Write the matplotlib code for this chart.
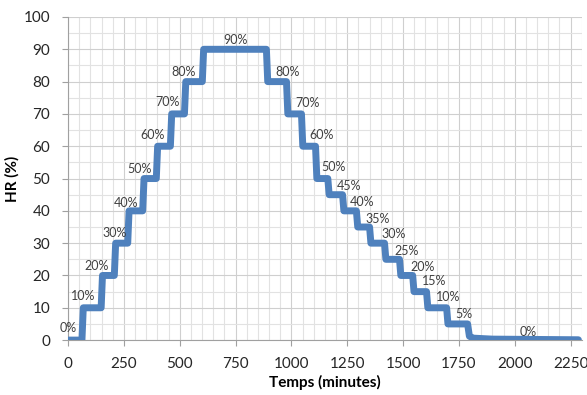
import matplotlib.pyplot as plt
from matplotlib.ticker import MultipleLocator

# corner points of the RH profile (minutes, %)
time_min = [0, 62, 68, 148, 154, 207, 213, 267, 273, 334, 340, 395, 401, 458, 464, 521, 527,
            601, 607, 888, 894, 978, 984, 1045, 1051, 1108, 1114, 1163, 1169, 1229, 1235,
            1291, 1297, 1350, 1356, 1417, 1423, 1484, 1490, 1543, 1549, 1605, 1611, 1695,
            1701, 1789, 1797, 1815, 1900, 2285]
hr_pct = [0, 0, 10, 10, 20, 20, 30, 30, 40, 40, 50, 50, 60, 60, 70, 70, 80,
          80, 90, 90, 80, 80, 70, 70, 60, 60, 50, 50, 45, 45, 40,
          40, 35, 35, 30, 30, 25, 25, 20, 20, 15, 15, 10, 10,
          5, 5, 1.2, 0.6, 0.3, 0.1]

# step labels
label_text = ["0%", "10%", "20%", "30%", "40%", "50%", "60%", "70%", "80%", "90%",
              "80%", "70%", "60%", "50%", "45%", "40%", "35%", "30%", "25%", "20%",
              "15%", "10%", "5%", "0%"]
label_x = [0, 68, 128, 207, 260, 322, 380, 445, 515, 748,
           982, 1072, 1135, 1190, 1260, 1318, 1385, 1456, 1518, 1586,
           1640, 1703, 1774, 2061]
label_y = [3.7, 13.5, 23, 33, 42.5, 53, 63.5, 73.7, 83, 93,
           83, 73.5, 63.5, 53.5, 47.6, 42.6, 37.4, 32.7, 27.5, 22.6,
           18.2, 13.3, 8, 2.5]

plt.rcParams["font.family"] = ["Lato", "DejaVu Sans"]

fig, ax = plt.subplots(figsize=(5.87, 3.95), dpi=100)
fig.subplots_adjust(left=0.116, right=0.991, top=0.957, bottom=0.139)

ax.plot(time_min, hr_pct, color="#4F81BD", linewidth=5,
        solid_joinstyle="round", solid_capstyle="round", zorder=3)

for txt, x, y in zip(label_text, label_x, label_y):
    ax.text(x, y, txt, ha="center", va="center", fontsize=9, color="#404040", zorder=4)

ax.set_xlim(0, 2300)
ax.set_ylim(0, 100)
ax.xaxis.set_major_locator(MultipleLocator(250))
ax.xaxis.set_minor_locator(MultipleLocator(50))
ax.yaxis.set_major_locator(MultipleLocator(10))
ax.yaxis.set_minor_locator(MultipleLocator(5))

ax.grid(which="major", color="#CFCFCF", linewidth=0.8)
ax.grid(which="minor", color="#E2E2E2", linewidth=0.8)
ax.set_axisbelow(True)

for side in ["top", "right"]:
    ax.spines[side].set_visible(False)
for side in ["left", "bottom"]:
    ax.spines[side].set_color("#A0A0A0")
    ax.spines[side].set_linewidth(0.8)

ax.tick_params(which="major", length=4, color="#A0A0A0", labelsize=11, labelcolor="#262626")
ax.tick_params(which="minor", length=0)
ax.tick_params(axis="x", pad=8)
ax.tick_params(axis="y", pad=9)

ax.set_xlabel("Temps (minutes)", fontsize=11, fontweight="bold", labelpad=3)
ax.set_ylabel("HR (%)", fontsize=11, fontweight="bold", labelpad=3)

fig.savefig("out.png", dpi=100)
